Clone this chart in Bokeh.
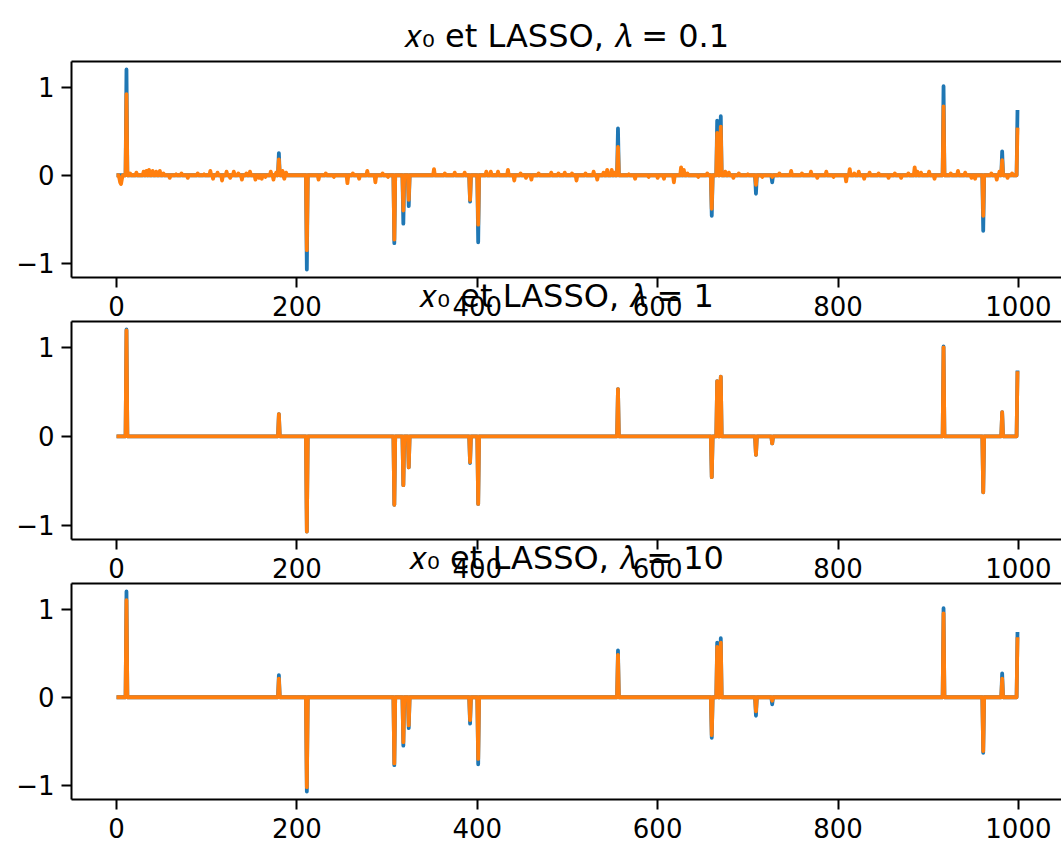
import numpy as np
from bokeh.plotting import figure
from bokeh.layouts import column
from bokeh.models import Range1d, FixedTicker, LinearAxis, Title, ColumnDataSource
from bokeh.embed import file_html
from bokeh.resources import INLINE

# ---------------- data ----------------
N = 1000
spike_idx = [11, 180, 211, 308, 318, 324, 392, 401, 556, 660, 666, 670, 709, 727, 917, 961, 982, 999]
x0_val = [1.20, 0.25, -1.07, -0.77, -0.55, -0.35, -0.30, -0.76, 0.53, -0.46, 0.62, 0.67,
          -0.21, -0.08, 1.01, -0.63, 0.27, 0.74]
lasso_01_spk = [0.92, 0.18, -0.85, -0.73, -0.40, -0.28, -0.28, -0.56, 0.32, -0.38, 0.48, 0.55,
                -0.11, -0.02, 0.78, -0.46, 0.17, 0.54]
lasso_1_spk = [1.19, 0.25, -1.07, -0.77, -0.55, -0.35, -0.29, -0.76, 0.53, -0.46, 0.62, 0.67,
               -0.21, -0.08, 1.00, -0.63, 0.27, 0.73]
lasso_10_spk = [1.10, 0.21, -1.02, -0.75, -0.51, -0.32, -0.26, -0.70, 0.48, -0.43, 0.57, 0.62,
                -0.16, -0.04, 0.95, -0.61, 0.21, 0.68]
noise_01_idx = [3, 4, 5, 6, 15, 22, 30, 33, 36, 40, 44, 48, 52, 59, 66, 72, 79, 90, 97, 104, 107,
                112, 117, 122, 126, 130, 135, 139, 144, 148, 154, 158, 161, 165, 171, 174, 177,
                184, 186, 188, 224, 232, 241, 256, 262, 269, 278, 287, 295, 301, 352, 364, 375,
                386, 410, 415, 423, 434, 441, 448, 454, 460, 468, 482, 490, 497, 505, 510, 520,
                529, 533, 540, 544, 549, 552, 568, 575, 590, 600, 607, 618, 626, 629, 633, 645,
                655, 675, 679, 684, 690, 700, 716, 735, 748, 760, 770, 777, 787, 795, 809, 813,
                818, 823, 829, 835, 845, 856, 863, 870, 878, 885, 888, 892, 901, 907, 925, 933,
                941, 948, 952, 970, 976, 979, 988, 993]
noise_01_val = [-0.03, -0.08, -0.10, -0.04, 0.02, 0.03, 0.04, 0.05, 0.06, 0.05, 0.04, 0.05, 0.02,
                -0.03, 0.01, 0.02, -0.03, 0.02, 0.01, 0.05, -0.04, 0.03, -0.06, 0.04, -0.03, 0.04,
                0.02, -0.05, 0.02, 0.04, -0.05, -0.03, -0.04, -0.02, 0.04, -0.05, 0.03, 0.05,
                -0.04, 0.03, -0.05, 0.02, -0.02, -0.09, 0.02, -0.04, 0.05, -0.08, 0.02, -0.02,
                0.07, 0.02, 0.03, 0.03, 0.04, 0.04, 0.04, 0.06, -0.06, 0.02, -0.03, -0.05, 0.02,
                0.03, 0.02, 0.03, 0.02, -0.06, 0.02, 0.04, -0.05, 0.03, 0.06, 0.06, 0.03, 0.01,
                -0.04, -0.02, -0.03, -0.04, -0.08, 0.09, 0.06, 0.02, -0.02, 0.02, 0.04, 0.03,
                -0.03, 0.02, 0.01, -0.02, 0.02, 0.05, 0.02, 0.04, -0.03, 0.04, -0.02, -0.07, 0.07,
                0.02, 0.04, -0.04, 0.03, 0.02, -0.03, 0.02, -0.03, 0.02, 0.09, 0.04, 0.03, 0.04,
                -0.04, 0.02, 0.05, 0.03, -0.03, -0.04, 0.02, -0.05, 0.04, -0.03, 0.02]
lambdas = ["0.1", "1", "10"]
x_ticks = [0, 200, 400, 600, 800, 1000]
y_ticks = [-1, 0, 1]

# ---------------- build series ----------------
idx = np.arange(N)
x0 = np.zeros(N)
x0[spike_idx] = x0_val

l01 = np.zeros(N)
l01[noise_01_idx] = noise_01_val
l01[spike_idx] = lasso_01_spk
l1 = np.zeros(N)
l1[spike_idx] = lasso_1_spk
l10 = np.zeros(N)
l10[spike_idx] = lasso_10_spk
estimates = [l01, l1, l10]

# ---------------- layout ----------------
BLUE = "#1f77b4"
ORANGE = "#ff7f0e"
FONT = "DejaVu Sans"
W = 1061
LEFT = 71
Y0, Y1 = -1.16, 1.29
X0, X1 = -49.95, 1047.8
# (top border incl. title, frame height, bottom border, margin-top)
geo = [(61, 216, 52, 0), (56, 218, 52, -64), (56, 216, 50, -64)]


def title_text(lam):
    return "\U0001D465\u2080 et LASSO, \U0001D706 = " + lam


figs = []
for k in range(3):
    top, fh, bot, mtop = geo[k]
    p = figure(width=W, height=top + fh + bot, output_backend="svg", toolbar_location=None,
               x_range=Range1d(X0, X1), y_range=Range1d(Y0, Y1),
               min_border_left=LEFT, min_border_right=0, min_border_top=top,
               min_border_bottom=bot, background_fill_color="white",
               border_fill_color=None, margin=(mtop, 0, 0, 0))
    p.outline_line_color = None
    p.xgrid.visible = False
    p.ygrid.visible = False

    src = ColumnDataSource(dict(i=idx, x0=x0, est=estimates[k]))
    p.line("i", "x0", source=src, line_color=BLUE, line_width=3.8, line_join="round")
    p.line("i", "est", source=src, line_color=ORANGE, line_width=3.8, line_join="round")

    for ax in (p.xaxis[0], p.yaxis[0]):
        ax.axis_line_width = 2
        ax.axis_line_color = "black"
        ax.major_tick_line_width = 2
        ax.major_tick_out = 10
        ax.major_tick_in = 0
        ax.minor_tick_line_color = None
        ax.major_label_text_font = FONT
        ax.major_label_text_font_size = "26px"
        ax.major_label_text_color = "black"
    p.xaxis.ticker = FixedTicker(ticks=x_ticks)
    p.yaxis.ticker = FixedTicker(ticks=y_ticks)
    p.xaxis.major_label_standoff = 8
    p.yaxis.major_label_standoff = 7
    p.yaxis.major_label_overrides = {-1: "\u22121", 0: "0", 1: "1"}

    topax = LinearAxis(ticker=FixedTicker(ticks=[]), major_tick_out=0, major_tick_in=0,
                       major_label_standoff=0, major_label_text_font_size="0px",
                       axis_line_width=2, axis_line_color="black", minor_tick_line_color=None)
    p.add_layout(topax, "above")

    p.title = Title(text=title_text(lambdas[k]), align="center", text_font=FONT,
                    text_font_size="32px", text_font_style="normal", text_color="black",
                    standoff=13)
    figs.append(p)

layout = column(*figs)
open("out.html", "w").write(file_html(layout, INLINE))
